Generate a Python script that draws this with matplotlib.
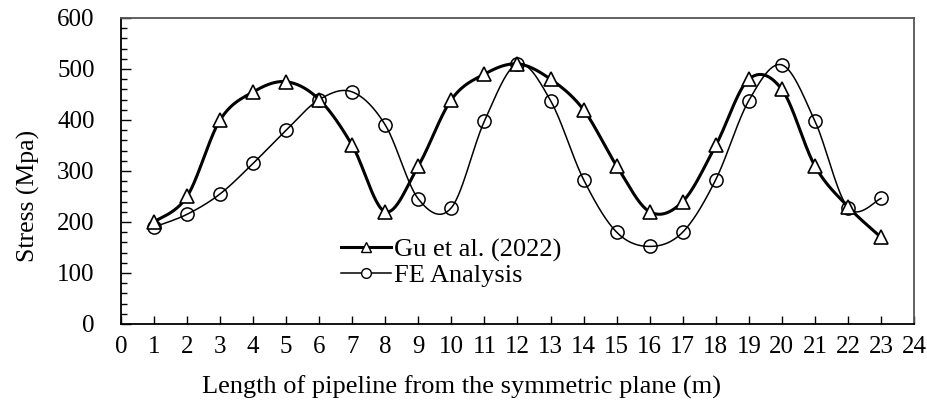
import numpy as np
import matplotlib.pyplot as plt
from matplotlib.lines import Line2D

# Datos
x_pos = [1, 2, 3, 4, 5, 6, 7, 8, 9, 10, 11, 12, 13, 14, 15, 16, 17, 18, 19, 20, 21, 22, 23]
gu_2022 = [200, 250, 400, 455, 475, 440, 350, 220, 310, 440, 490, 510,
           480, 420, 310, 220, 240, 350, 480, 460, 310, 230, 170]
fe_analysis = [190, 215, 255, 315, 380, 440, 455, 390, 245, 228, 398, 510,
               438, 283, 180, 152, 180, 283, 438, 508, 398, 228, 246]

plt.rcParams['font.family'] = ['Liberation Serif', 'DejaVu Serif']
plt.rcParams['font.size'] = 18


def smooth(xs, ys, n=30):
    # curva suavizada tipo Excel (Bezier con tangentes de Catmull-Rom)
    p = np.column_stack([xs, ys]).astype(float)
    p = np.vstack([p[0], p, p[-1]])
    t = np.linspace(0, 1, n)[:, None]
    out = []
    for i in range(1, len(p) - 2):
        p0, p1, p2, p3 = p[i - 1], p[i], p[i + 1], p[i + 2]
        b1 = p1 + (p2 - p0) / 6
        b2 = p2 - (p3 - p1) / 6
        seg = ((1 - t) ** 3) * p1 + 3 * ((1 - t) ** 2) * t * b1 + 3 * (1 - t) * t ** 2 * b2 + t ** 3 * p2
        out.append(seg if i == 1 else seg[1:])
    out = np.vstack(out)
    return out[:, 0], out[:, 1]


fig = plt.figure(figsize=(9.27, 4.09), dpi=100)
ax = fig.add_axes([0.1305, 0.208, 0.8555, 0.748])

sx, sy = smooth(x_pos, fe_analysis)
ax.plot(sx, sy, color='black', linewidth=1.1, zorder=2)
ax.plot(x_pos, fe_analysis, linestyle='none', marker='o', markersize=9.5,
        markerfacecolor='none', markeredgecolor='black', markeredgewidth=1.1, zorder=3)

sx, sy = smooth(x_pos, gu_2022)
ax.plot(sx, sy, color='black', linewidth=2.2, zorder=4)
ax.plot(x_pos, gu_2022, linestyle='none', marker='^', markersize=9.5,
        markerfacecolor='white', markeredgecolor='black', markeredgewidth=1.2, zorder=5)

ax.set_xlim(0, 24)
ax.set_ylim(0, 600)
ax.set_xticks(range(0, 25))
ax.set_yticks(range(0, 601, 100))
ax.set_yticks(range(0, 601, 20), minor=True)
ax.tick_params(axis='x', direction='in', length=6, width=1, pad=9, labelsize=18)
ax.tick_params(axis='y', which='major', direction='in', length=7, width=1, pad=19, labelsize=18)
ax.tick_params(axis='y', which='minor', direction='in', length=4, width=1)
ax.tick_params(axis='x', which='minor', bottom=False)

for s in ['left', 'bottom']:
    ax.spines[s].set_linewidth(1.3)
    ax.spines[s].set_color('black')
for s in ['top', 'right']:
    ax.spines[s].set_linewidth(1.3)
    ax.spines[s].set_color('#555555')

ax.set_xlabel('Length of pipeline from the symmetric plane (m)', fontsize=19, labelpad=12)
ax.xaxis.label.set_x(0.43)
ax.set_ylabel('Stress (Mpa)', fontsize=18.5, labelpad=12)
ax.yaxis.label.set_y(0.418)

handles = [
    Line2D([], [], color='black', linewidth=2.2, marker='^', markersize=7,
           markerfacecolor='white', markeredgecolor='black'),
    Line2D([], [], color='black', linewidth=1.1, marker='o', markersize=7,
           markerfacecolor='white', markeredgecolor='black'),
]
ax.legend(handles, ['Gu et al. (2022)', 'FE Analysis'], loc='upper left',
          bbox_to_anchor=(328 / 927, 1 - 225 / 409), bbox_transform=fig.transFigure,
          frameon=False, fontsize=19, handlelength=1.9, handletextpad=0.1,
          labelspacing=0.05, borderpad=0)

fig.savefig('out.png', dpi=100)
